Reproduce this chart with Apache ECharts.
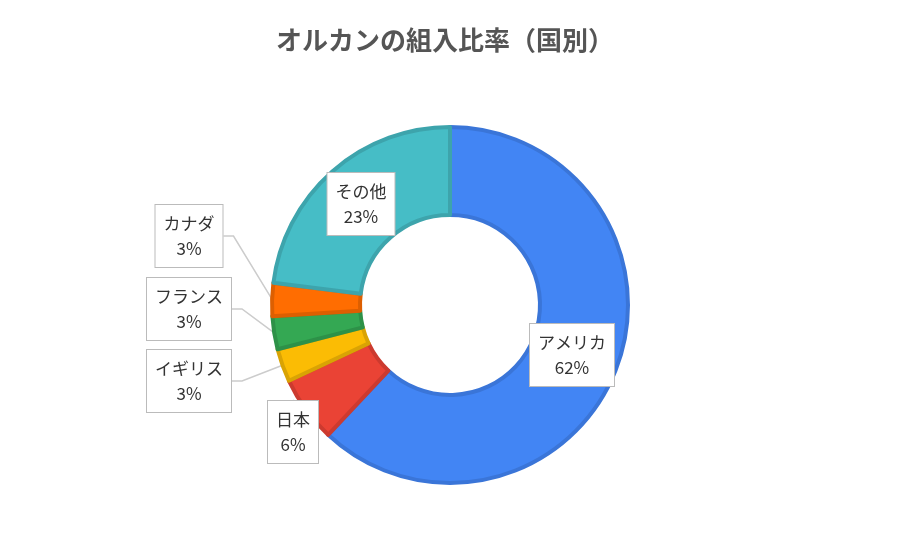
<!DOCTYPE html>
<html><head><meta charset="utf-8">
<script src="https://cdn.jsdelivr.net/npm/echarts@6/dist/echarts.min.js"></script>
<style>html,body{margin:0;background:#fff}#c{width:900px;height:540px}</style>
</head><body><div id="c"></div>
<script>
const categories = ['アメリカ','日本','イギリス','フランス','カナダ','その他'];
const values = [62,6,3,3,3,23];
const colors = ['#4285F4','#EA4335','#FBBC04','#34A853','#FF6D01','#46BDC6'];
const borders = ['#3a75d8','#cc3a2f','#d9a304','#2d9148','#dd5f01','#3da4ac'];
const labelPos = [[572,355],[293,432],[189,381],[189,309],[189,236],[361,204]];
const chart = echarts.init(document.getElementById('c'));
chart.setOption({
  title:{text:'オルカンの組入比率（国別）',left:440,top:22,textAlign:'center',
    textStyle:{fontFamily:'Noto Sans CJK JP',fontSize:26,fontWeight:'bold',color:'#555'}},
  series:[{
    type:'pie',center:[450,305],radius:[90,178],startAngle:90,clockwise:true,
    data:categories.map((n,i)=>({name:n,value:values[i],
      itemStyle:{color:colors[i],borderColor:borders[i],borderWidth:4},
      labelLine:{show:values[i]<=6}})),
    label:{formatter:'{b}\n{d}%',fontFamily:'Noto Sans CJK JP',fontSize:17,color:'#333',lineHeight:25,
      backgroundColor:'#fff',borderColor:'#bbb',borderWidth:1,padding:[6,8],align:'center'},
    labelLine:{lineStyle:{color:'#ccc',width:1.5},length:10,length2:10},
    labelLayout:function(p){const q=labelPos[p.dataIndex];return {x:q[0],y:q[1],align:'center',verticalAlign:'middle'};},
    emphasis:{disabled:true}
  }]
});
</script></body></html>
